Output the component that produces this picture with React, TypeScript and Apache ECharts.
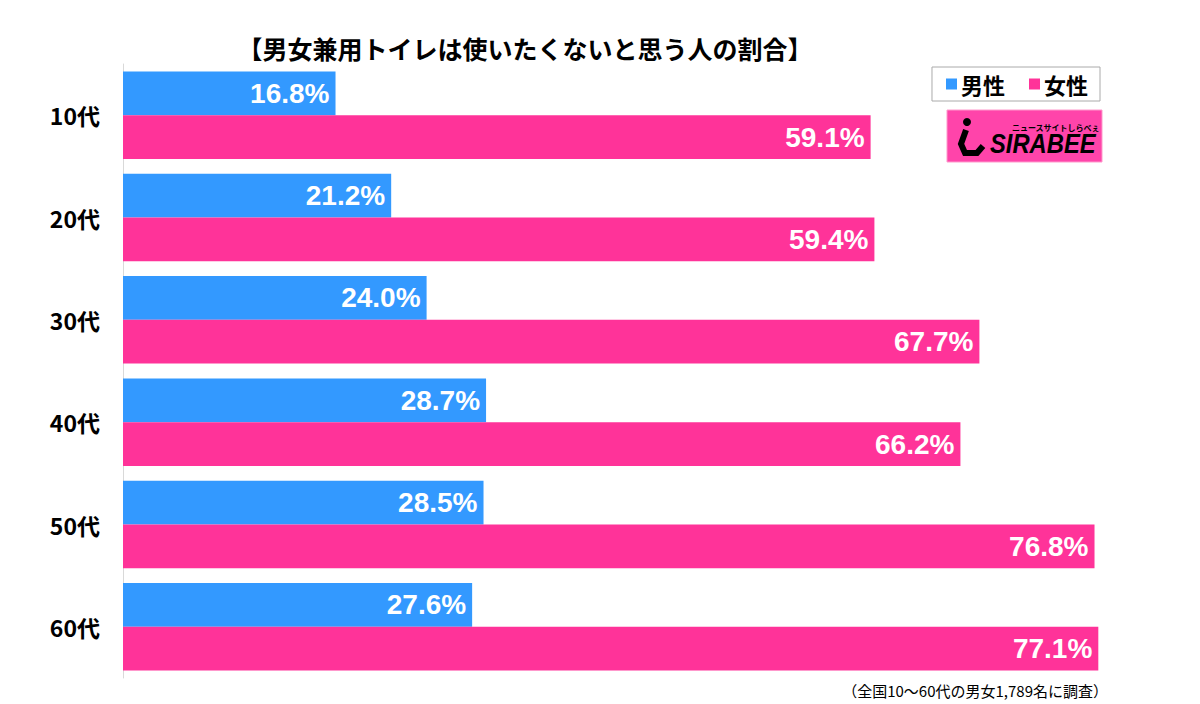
import React, { useEffect, useRef } from "react";
import * as echarts from "echarts";

const categories = ["10代", "20代", "30代", "40代", "50代", "60代"];
const maleValues = [16.8, 21.2, 24.0, 28.7, 28.5, 27.6];
const femaleValues = [59.1, 59.4, 67.7, 66.2, 76.8, 77.1];
const seriesNames = ["男性", "女性"];
const titleText = "【男女兼用トイレは使いたくないと思う人の割合】";
const noteText = "（全国10～60代の男女1,789名に調査）";

const BLUE = "#3399FF";
const PINK = "#FF3399";
const JP = "'Noto Sans CJK JP', 'Noto Sans', sans-serif";
const NUM = "'Liberation Sans', Arial, sans-serif";

export default function App() {
  const ref = useRef<HTMLDivElement>(null);
  useEffect(() => {
    if (!ref.current) return;
    const chart = echarts.init(ref.current, undefined, { renderer: "svg" });
    const label = {
      show: true,
      position: "insideRight",
      distance: 6,
      color: "#fff",
      fontSize: 28,
      fontWeight: "bold",
      fontFamily: NUM,
      formatter: (p: any) => p.value.toFixed(1) + "%",
    };
    chart.setOption({
      animation: false,
      backgroundColor: "#fff",
      title: {
        text: titleText,
        left: 520,
        textAlign: "center",
        top: 30,
        textStyle: { fontSize: 25, fontWeight: "bold", fontFamily: JP, color: "#000", letterSpacing: 0.6 },
      },
      legend: {
        data: seriesNames,
        right: 100,
        top: 67,
        padding: [6, 12, 6, 14],
        borderColor: "#aaaaaa",
        borderWidth: 1,
        backgroundColor: "#fff",
        icon: "rect",
        itemWidth: 11,
        itemHeight: 11,
        itemGap: 24,
        textStyle: { fontSize: 22, fontWeight: "bold", fontFamily: JP, color: "#000", padding: [0, 0, 0, -1] },
      },
      grid: { left: 123, top: 64, bottom: 26, width: 1012 },
      xAxis: {
        type: "value",
        min: 0,
        max: 80,
        show: false,
      },
      yAxis: {
        type: "category",
        data: categories,
        inverse: true,
        axisLine: { show: true, lineStyle: { color: "#d9d9d9", width: 1 } },
        axisTick: { show: false },
        axisLabel: { fontSize: 23, color: "#000", fontFamily: JP, fontWeight: "bold", margin: 23 },
      },
      series: [
        {
          name: seriesNames[0],
          type: "bar",
          data: maleValues,
          itemStyle: { color: BLUE },
          barGap: "0%",
          barCategoryGap: "14.5%",
          label,
        },
        {
          name: seriesNames[1],
          type: "bar",
          data: femaleValues,
          itemStyle: { color: PINK },
          barGap: "0%",
          barCategoryGap: "14.5%",
          label,
        },
      ],
      graphic: [
        {
          type: "rect",
          shape: { x: 947, y: 110, width: 155, height: 52 },
          style: { fill: "#FF44AA", stroke: "#ff99cc", lineWidth: 1 },
        },
        { type: "circle", shape: { cx: 967, cy: 122, r: 4 }, style: { fill: "#000" } },
        {
          type: "polyline",
          shape: { points: [[966, 130], [961, 144], [965, 153], [977, 153], [983, 146]] },
          style: { stroke: "#000", lineWidth: 6, fill: null },
        },
        {
          type: "text",
          x: 990,
          y: 157,
          scaleX: 0.88,
          style: {
            text: "SIRABEE",
            x: 0,
            y: 0,
            textVerticalAlign: "bottom",
            fill: "#000",
            font: "italic bold 27px 'Liberation Sans', Arial, sans-serif",
          },
        },
        {
          type: "text",
          style: {
            text: "ニュースサイトしらべぇ",
            x: 1012,
            y: 127,
            textVerticalAlign: "middle",
            fill: "#000",
            font: "bold 8px 'Noto Sans CJK JP', sans-serif",
          },
        },
        {
          type: "text",
          style: {
            text: noteText,
            x: 1108,
            y: 690,
            textAlign: "right",
            textVerticalAlign: "middle",
            fill: "#000",
            font: "15px 'Noto Sans CJK JP', sans-serif",
          },
        },
      ],
    });
    return () => chart.dispose();
  }, []);
  return <div ref={ref} style={{ width: 1200, height: 704, position: "absolute", left: 0, top: 0 }} />;
}
